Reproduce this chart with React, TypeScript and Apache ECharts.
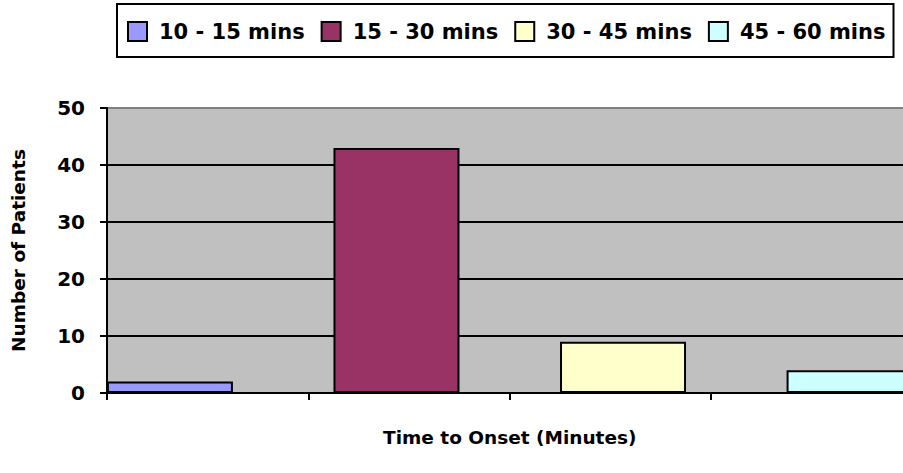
import React, { useEffect, useRef } from "react";
import * as echarts from "echarts";

const seriesNames = ["10 - 15 mins", "15 - 30 mins", "30 - 45 mins", "45 - 60 mins"];
const seriesValues = [2, 43, 9, 4];
const seriesColors = ["#9999FF", "#993366", "#FFFFCC", "#CCFFFF"];
const tickCategories = ["", "", "", ""];
const barCategory = ["Time to Onset"];
const yTicks = { min: 0, max: 50, interval: 10 };

const FONT = "DejaVu Sans";

export default function App() {
  const ref = useRef<HTMLDivElement>(null);
  useEffect(() => {
    const chart = echarts.init(ref.current!, null, { renderer: "svg" });
    chart.setOption({
      animation: false,
      backgroundColor: "#ffffff",
      textStyle: { fontFamily: FONT },
      legend: {
        left: 117,
        top: 4,
        padding: [17, 8, 15, 10],
        borderColor: "#000",
        borderWidth: 2,
        itemWidth: 19,
        itemHeight: 19,
        itemGap: 16,
        icon: "rect",
        textStyle: {
          fontFamily: FONT,
          fontWeight: "bold",
          fontSize: 21,
          color: "#000",
          padding: [0, 0, 0, 7],
        },
        data: seriesNames.map((n) => ({
          name: n,
          itemStyle: { borderColor: "#000", borderWidth: 2 },
        })),
      },
      grid: {
        left: 107,
        top: 108,
        width: 805.5,
        height: 285,
        backgroundColor: "#C0C0C0",
        show: true,
        borderWidth: 0,
        containLabel: false,
        outerBoundsMode: "none",
      },
      xAxis: [
        {
          type: "category",
          data: tickCategories,
          boundaryGap: true,
          axisLine: { show: true, lineStyle: { color: "#000", width: 2 } },
          axisTick: { show: true, length: 7, lineStyle: { color: "#000", width: 2 } },
          axisLabel: { show: false },
          name: "Time to Onset (Minutes)",
          nameLocation: "middle",
          nameGap: 35,
          nameTextStyle: { fontFamily: FONT, fontWeight: "bold", fontSize: 18.5, color: "#000" },
        },
        {
          type: "category",
          data: barCategory,
          show: false,
          position: "bottom",
        },
      ],
      yAxis: {
        type: "value",
        min: yTicks.min,
        max: yTicks.max,
        interval: yTicks.interval,
        axisLine: { show: true, lineStyle: { color: "#000", width: 2 } },
        axisTick: { show: true, length: 7, lineStyle: { color: "#000", width: 2 } },
        axisLabel: { fontFamily: FONT, fontWeight: "bold", fontSize: 20, color: "#000", margin: 22 },
        splitLine: {
          show: true,
          lineStyle: { color: ["#000", "#000", "#000", "#000", "#000", "#808080"], width: 2 },
        },
        name: "Number of Patients",
        nameLocation: "middle",
        nameGap: 79,
        nameTextStyle: { fontFamily: FONT, fontWeight: "bold", fontSize: 18.5, color: "#000" },
      },
      series: seriesNames.map((name, i) => ({
        name,
        type: "bar",
        xAxisIndex: 1,
        data: [seriesValues[i]],
        barWidth: 126,
        barGap: "79.8%",
        barCategoryGap: 0,
        itemStyle: { color: seriesColors[i], borderColor: "#000", borderWidth: 2 },
      })),
    });
    return () => chart.dispose();
  }, []);
  return (
    <div
      ref={ref}
      style={{ position: "absolute", left: 0, top: 0, width: 903, height: 473 }}
    />
  );
}
